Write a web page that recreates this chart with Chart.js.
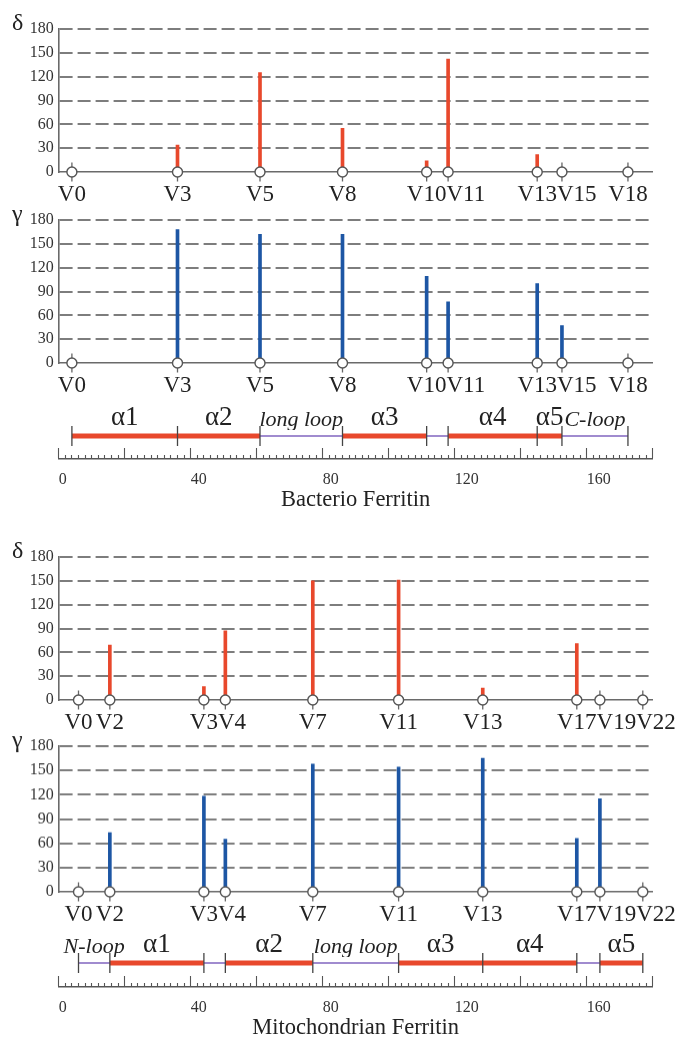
<!DOCTYPE html>
<html>
<head>
<meta charset="utf-8">
<title>Ferritin dihedral angles</title>
<script src="https://cdn.jsdelivr.net/npm/chart.js@4/dist/chart.umd.min.js"></script>
<style>
  html, body { margin: 0; padding: 0; background: #fff; overflow: hidden; }
  #page { position: relative; width: 680px; height: 1037px; overflow: hidden; }
  #page canvas { position: absolute; left: 0; }
</style>
</head>
<body>
<div id="page"></div>
<script>
// Bacterio ferritin: vertices sit on the segment boundaries (residue numbers)
const bactVertices = ['V0', 'V3', 'V5', 'V8', 'V10', 'V11', 'V13', 'V15', 'V18'];
const bactResidues = [4, 36, 61, 86, 111.5, 118, 145, 152.5, 172.5];
const bactDelta = [0, 34, 125, 55, 14, 142, 22, 0, 0];
const bactGamma = [0, 168, 162, 162, 109, 77, 100, 47, 0];
const bactSegNames = ['α1', 'α2', 'long loop', 'α3', '', 'α4', 'α5', 'C-loop'];
const bactSegTypes = ['helix', 'helix', 'loop', 'helix', 'loop', 'helix', 'helix', 'loop'];

// Mitochondrian ferritin
const mitoVertices = ['V0', 'V2', 'V3', 'V4', 'V7', 'V11', 'V13', 'V17', 'V19', 'V22'];
const mitoResidues = [6, 15.5, 44, 50.5, 77, 103, 128.5, 157, 164, 177];
const mitoDelta = [0, 69, 17, 87, 150, 151, 15, 71, 0, 0];
const mitoGamma = [0, 73, 118, 65, 158, 154, 165, 66, 115, 0];
const mitoSegNames = ['N-loop', 'α1', '', 'α2', 'long loop', 'α3', 'α4', '', 'α5'];
const mitoSegTypes = ['loop', 'helix', 'loop', 'helix', 'loop', 'helix', 'helix', 'loop', 'helix'];

// Axis ticks
const angleTicks = [0, 30, 60, 90, 120, 150, 180];
const rulerLabels = [0, 40, 80, 120, 160];
const residueMin = 0;
const residueMax = 180;

// Layout / style
const W = 680;
const AXIS_LEFT = 58.7;
const PAD_RIGHT = W - 652.7;
const SERIF = '"Liberation Serif", "DejaVu Serif", serif';
const RED = '#e8482c';
const BLUE = '#1d56a4';
const LOOP = '#a08bcf';
const GRAY = '#6a6a6a';

const page = document.getElementById('page');

function makeCanvas(top, height) {
    const c = document.createElement('canvas');
    c.width = W;
    c.height = height;
    c.style.top = top + 'px';
    c.style.width = W + 'px';
    c.style.height = height + 'px';
    page.appendChild(c);
    return c;
}

// Greek letter and vertex names under each stem panel
const stemLabels = {
    id: 'stemLabels',
    afterDraw(chart, args, opts) {
        const { ctx, chartArea, scales } = chart;
        ctx.save();
        ctx.fillStyle = '#222';
        ctx.textAlign = 'left';
        ctx.textBaseline = 'alphabetic';
        ctx.font = `24px ${SERIF}`;
        ctx.fillText(opts.greek, 12, chartArea.top + 1);
        ctx.font = `23px ${SERIF}`;
        let prevRight = -Infinity;
        opts.names.forEach((name, i) => {
            const w = ctx.measureText(name).width;
            let left = scales.x.getPixelForValue(opts.residues[i]) - w / 2;
            if (left < prevRight) left = prevRight;
            ctx.fillText(name, left, chartArea.bottom + 29);
            prevRight = left + w;
        });
        ctx.restore();
    }
};

function stemChart(top, bottom, greek, names, residues, values, color) {
    const canvas = makeCanvas(top - 26, bottom - top + 26 + 36);
    return new Chart(canvas, {
        type: 'bar',
        data: {
            datasets: [{
                type: 'scatter',
                data: residues.map(r => ({ x: r, y: 0 })),
                pointStyle: 'circle',
                pointRadius: 5,
                pointBackgroundColor: '#fff',
                pointBorderColor: '#555',
                pointBorderWidth: 1.4,
                clip: false,
                order: 0
            }, {
                type: 'bar',
                data: residues.map((r, i) => ({ x: r, y: values[i] })),
                backgroundColor: color,
                barThickness: 3,
                order: 1
            }, {
                type: 'scatter',
                data: residues.map(r => ({ x: r, y: 0 })),
                pointStyle: 'line',
                pointRotation: 90,
                pointRadius: 9.5,
                pointBorderColor: '#666',
                pointBorderWidth: 1.3,
                clip: false,
                order: 2
            }]
        },
        options: {
            responsive: false,
            animation: false,
            devicePixelRatio: 1,
            layout: { padding: { top: 26, left: 0, right: PAD_RIGHT, bottom: 0 } },
            plugins: {
                legend: { display: false },
                tooltip: { enabled: false },
                stemLabels: { greek, names, residues }
            },
            scales: {
                x: {
                    type: 'linear',
                    min: residueMin,
                    max: residueMax,
                    offset: false,
                    grid: { display: false, offset: false, drawTicks: false },
                    ticks: { display: false },
                    border: { display: true, color: GRAY, width: 1.6 },
                    afterFit: s => { s.height = 36; }
                },
                y: {
                    min: 0,
                    max: 180,
                    afterBuildTicks: s => { s.ticks = angleTicks.map(v => ({ value: v })); },
                    grid: {
                        drawTicks: false,
                        color: c => c.tick && c.tick.value === 0 ? 'rgba(0,0,0,0)' : '#7d7d7d',
                        lineWidth: 1.9
                    },
                    border: { display: true, color: GRAY, width: 1.6, dash: [13, 5] },
                    ticks: { padding: 5, color: '#333', font: { family: SERIF, size: 16 } },
                    afterFit: s => { s.width = AXIS_LEFT; }
                }
            }
        },
        plugins: [stemLabels]
    });
}

// Secondary structure bar with helix / loop names
function helixChart(barY, names, residues, types) {
    const canvas = makeCanvas(barY - 46, 64);
    const pieces = kind => {
        const pts = [];
        types.forEach((t, i) => {
            if (t === kind) {
                pts.push({ x: residues[i], y: 0 }, { x: residues[i + 1], y: 0 }, { x: residues[i + 1], y: null });
            }
        });
        return pts;
    };
    return new Chart(canvas, {
        type: 'line',
        data: {
            datasets: [{
                type: 'scatter',
                data: residues.map(r => ({ x: r, y: 0 })),
                pointStyle: 'line',
                pointRotation: 90,
                pointRadius: 10,
                pointBorderColor: '#444',
                pointBorderWidth: 1.3,
                clip: false,
                order: 0
            }, {
                data: pieces('helix'),
                borderColor: RED,
                borderWidth: 5,
                borderCapStyle: 'butt',
                pointRadius: 0,
                spanGaps: false,
                clip: false,
                order: 1
            }, {
                data: pieces('loop'),
                borderColor: LOOP,
                borderWidth: 2,
                borderCapStyle: 'butt',
                pointRadius: 0,
                spanGaps: false,
                clip: false,
                order: 2
            }]
        },
        options: {
            responsive: false,
            animation: false,
            devicePixelRatio: 1,
            layout: { padding: { top: 0, left: AXIS_LEFT, right: PAD_RIGHT, bottom: 12 } },
            plugins: { legend: { display: false }, tooltip: { enabled: false } },
            scales: {
                x: {
                    type: 'linear',
                    position: 'top',
                    min: residueMin,
                    max: residueMax,
                    grid: { display: false, drawTicks: false },
                    border: { display: false },
                    afterBuildTicks: s => {
                        s.ticks = names.map((n, i) => ({ value: (residues[i] + residues[i + 1]) / 2 }));
                    },
                    ticks: {
                        autoSkip: false,
                        maxRotation: 0,
                        padding: -1,
                        color: '#222',
                        callback: (v, i) => names[i],
                        font: c => types[c.index] === 'loop'
                            ? { family: SERIF, size: 22, style: 'italic', lineHeight: 1 }
                            : { family: SERIF, size: 27, lineHeight: 1 }
                    },
                    afterFit: s => { s.height = 40; }
                },
                y: { display: false, min: -1, max: 1 }
            }
        }
    });
}

// Residue ruler: minor tick every 2, major every 20
function rulerChart(baseY, title) {
    const canvas = makeCanvas(baseY - 19, 75);
    return new Chart(canvas, {
        type: 'scatter',
        data: { datasets: [] },
        options: {
            responsive: false,
            animation: false,
            devicePixelRatio: 1,
            layout: { padding: { top: 8, left: AXIS_LEFT, right: PAD_RIGHT, bottom: 0 } },
            plugins: { legend: { display: false }, tooltip: { enabled: false } },
            scales: {
                x: {
                    type: 'linear',
                    position: 'top',
                    min: residueMin,
                    max: residueMax,
                    ticks: { display: false, stepSize: 2, autoSkip: false },
                    grid: {
                        drawOnChartArea: false,
                        drawTicks: true,
                        tickLength: 11,
                        tickColor: '#555',
                        tickWidth: 1.1,
                        tickBorderDash: c => c.tick && c.tick.value % 20 === 0 ? [] : [0, 7, 5, 40]
                    },
                    border: { display: true, color: '#555', width: 1.4 },
                    afterFit: s => { s.height = 11; }
                },
                x2: {
                    type: 'linear',
                    position: 'bottom',
                    min: residueMin,
                    max: residueMax,
                    afterBuildTicks: s => { s.ticks = rulerLabels.map(v => ({ value: v })); },
                    ticks: {
                        align: 'start',
                        padding: 7,
                        autoSkip: false,
                        maxRotation: 0,
                        color: '#333',
                        font: { family: SERIF, size: 16 }
                    },
                    grid: { display: false, drawTicks: false },
                    border: { display: false },
                    title: {
                        display: true,
                        text: title,
                        color: '#222',
                        font: { family: SERIF, size: 22.5, lineHeight: 1 },
                        padding: { top: 0, bottom: 4 }
                    },
                    afterFit: s => { s.height = 52; }
                },
                y: { display: false }
            }
        }
    });
}

stemChart(29, 172.3, 'δ', bactVertices, bactResidues, bactDelta, RED);
stemChart(220, 363.3, 'γ', bactVertices, bactResidues, bactGamma, BLUE);
helixChart(435.7, bactSegNames, bactResidues, bactSegTypes);
rulerChart(459, 'Bacterio Ferritin');

stemChart(556.7, 700, 'δ', mitoVertices, mitoResidues, mitoDelta, RED);
stemChart(746, 891.7, 'γ', mitoVertices, mitoResidues, mitoGamma, BLUE);
helixChart(962.7, mitoSegNames, mitoResidues, mitoSegTypes);
rulerChart(987, 'Mitochondrian Ferritin');
</script>
</body>
</html>
